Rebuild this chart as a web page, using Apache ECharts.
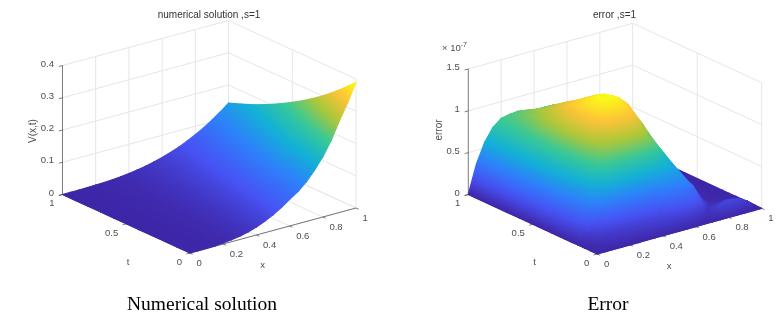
<!DOCTYPE html>
<html><head><meta charset="utf-8">
<style>html,body{margin:0;padding:0;background:#fff}#c{width:778px;height:313px;filter:blur(.45px)}</style>
<script src="https://cdn.jsdelivr.net/npm/echarts@6/dist/echarts.min.js"></script>
</head><body><div id="c"></div>
<script>
// ---------- data ----------
const xValues = [0,.05,.1,.15,.2,.25,.3,.35,.4,.45,.5,.55,.6,.65,.7,.75,.8,.85,.9,.95,1];
const solutionT = [0,.1,.2,.3,.4,.5,.6,.7,.8,.9,1];
const solutionRows = [
[0,.0001,.0004,.0013,.0031,.0061,.0105,.0167,.025,.0355,.0488,.0645,.083,.1,.123,.152,.187,.23,.2843,.3344,.39],
[0,.0001,.0004,.0012,.0028,.0055,.0095,.0151,.0226,.0322,.0441,.0585,.075,.091,.113,.138,.17,.21,.2573,.3026,.353],
[0,0,.0003,.0011,.0026,.005,.0086,.0137,.0204,.0291,.0399,.053,.068,.084,.104,.127,.156,.19,.2329,.2739,.3194],
[0,0,.0003,.001,.0023,.0045,.0078,.0124,.0185,.0263,.0361,.0481,.0624,.0794,.0991,.1219,.148,.1775,.2107,.2478,.289],
[0,0,.0003,.0009,.0021,.0041,.0071,.0112,.0167,.0238,.0327,.0435,.0564,.0718,.0896,.1102,.1338,.1605,.1905,.224,.2613],
[0,0,.0002,.0008,.0019,.0037,.0064,.0102,.0152,.0216,.0296,.0394,.0511,.065,.0812,.0999,.1212,.1454,.1726,.203,.2367],
[0,0,.0002,.0007,.0017,.0033,.0058,.0092,.0137,.0195,.0268,.0356,.0463,.0588,.0734,.0903,.1096,.1315,.1561,.1836,.2141],
[0,0,.0002,.0007,.0016,.003,.0052,.0083,.0124,.0177,.0242,.0323,.0419,.0532,.0665,.0818,.0992,.119,.1413,.1662,.1938],
[0,0,.0002,.0006,.0014,.0027,.0047,.0075,.0112,.016,.0219,.0291,.0378,.0481,.0601,.0739,.0897,.1075,.1277,.1501,.1751],
[0,0,.0002,.0005,.0013,.0025,.0043,.0068,.0102,.0145,.0198,.0264,.0343,.0436,.0544,.067,.0813,.0975,.1157,.1361,.1587],
[0,0,.0001,.0005,.0012,.0022,.0039,.0062,.0092,.0131,.0179,.0239,.031,.0394,.0492,.0606,.0735,.0881,.1046,.1231,.1435]
];
const errorT = [0,.05,.1,.15,.2,.25,.3,.35,.4,.45,.5,.6,.7,.8,.9,1];
const errorRows = [
[0,0,0,0,0,0,0,0,0,0,0,0,0,0,0,0,0,0,0,0,0],
[0,.015,.03,.04,.05,.055,.06,.065,.07,.08,.09,.1,.1,.08,.04,.08,.13,.15,.13,.08,0],
[0,.03,.06,.08,.1,.11,.12,.13,.14,.16,.2,.24,.27,.27,.2,.06,.08,.1,.09,.05,0],
[0,.07,.14,.2,.26,.28,.3,.32,.34,.36,.4,.42,.44,.42,.32,.14,.04,.04,.04,.02,0],
[0,.14,.31,.48,.62,.66,.66,.66,.66,.65,.63,.6,.57,.5,.36,.2,.05,.02,.01,.01,0],
[0,.18,.38,.6,.8,.9,.93,.95,.96,.95,.92,.85,.7,.55,.38,.22,.08,.015,.005,.005,0],
[0,.2,.42,.65,.87,1.02,1.08,1.12,1.14,1.12,1.05,.92,.74,.58,.4,.24,.11,.03,.005,.005,0],
[0,.22,.46,.69,.91,1.09,1.2,1.28,1.3,1.26,1.16,1,.8,.6,.4,.23,.1,.03,.01,.005,0],
[0,.24,.5,.72,.93,1.12,1.28,1.36,1.38,1.33,1.23,1.05,.83,.6,.4,.22,.1,.03,.01,0,0],
[0,.26,.52,.74,.94,1.13,1.29,1.37,1.37,1.32,1.22,1.05,.83,.6,.4,.22,.1,.03,.01,0,0],
[0,.27,.53,.75,.95,1.13,1.27,1.32,1.33,1.29,1.2,1.04,.83,.6,.4,.22,.1,.03,.01,0,0],
[0,.3,.55,.75,.93,1.08,1.19,1.22,1.22,1.18,1.1,.97,.78,.57,.38,.21,.09,.03,.01,0,0],
[0,.32,.56,.75,.9,1.01,1.09,1.12,1.1,1.07,1.02,.9,.72,.53,.35,.2,.09,.03,.01,0,0],
[0,.33,.56,.73,.85,.94,1,1.01,1,.97,.92,.82,.66,.49,.32,.18,.08,.02,.01,0,0],
[0,.34,.57,.72,.82,.88,.92,.9,.9,.9,.85,.75,.6,.44,.29,.16,.07,.02,.01,0,0],
[0,.34,.57,.72,.8,.82,.83,.81,.79,.79,.75,.68,.54,.4,.26,.14,.06,.02,.005,0,0]
];
const xTicks = [0,.2,.4,.6,.8,1];
const tTicks = [0,.5,1];
const zTicksSolution = [0,.1,.2,.3,.4];
const zTicksError = [0,.5,1,1.5];
const parula = ['#3e26a8','#4752f4','#2d80fb','#12b1d6','#37c897','#abc739','#fec338','#f9fb15'];

// ---------- panel geometry (pixels per unit along each data axis) ----------
const panels = [
 {title:'numerical solution ,s=1',caption:'Numerical solution',titleX:204,capX:197,zLabel:'V(x,t)',
  rows:solutionRows,tVals:solutionT,zTicks:zTicksSolution,zMax:.4,frontX:190,frontY:253,xu:166,xv:45,tu:-127.5,tv:58.5,zv:322.5},
 {title:'error ,s=1',caption:'Error',titleX:609.5,capX:603,zLabel:'error',
  rows:errorRows,tVals:errorT,zTicks:zTicksError,zMax:1.5,frontX:597.3,frontY:254,xu:164.4,xv:45.7,tu:-129,tv:59.5,zv:83.7}
];

const hex = h => [1,3,5].map(i => parseInt(h.substr(i,2),16));
const cmap = parula.map(hex);
function colorAt(c){
  c = Math.max(0,Math.min(1,c)) * (cmap.length-1);
  const i = Math.min(cmap.length-2,Math.floor(c)), f = c-i;
  const m = cmap[i].map((v,k)=>Math.round(v+(cmap[i+1][k]-v)*f));
  return 'rgb('+m.join(',')+')';
}
function triFill(P,vals,M){
  const [a,b,c]=vals;
  const e1=[P[1][0]-P[0][0],P[1][1]-P[0][1]], e2=[P[2][0]-P[0][0],P[2][1]-P[0][1]];
  const det=e1[0]*e2[1]-e1[1]*e2[0];
  const mn=Math.min(a,b,c), mx=Math.max(a,b,c);
  if(Math.abs(det)<1e-3 || mx-mn<1e-4*M) return colorAt((a+b+c)/3/M);
  const gx=((b-a)*e2[1]-(c-a)*e1[1])/det, gy=(-(b-a)*e2[0]+(c-a)*e1[0])/det;
  const g2=gx*gx+gy*gy;
  if(g2<1e-14) return colorAt((a+b+c)/3/M);
  const s1=(mn-a)/g2, s2=(mx-a)/g2;
  const stops=[];
  for(let k=0;k<=4;k++){const o=k/4;stops.push({offset:o,color:colorAt((mn+(mx-mn)*o)/M)});}
  return new echarts.graphic.LinearGradient(P[0][0]+gx*s1,P[0][1]+gy*s1,P[0][0]+gx*s2,P[0][1]+gy*s2,stops,true);
}

const grids=[],xAxes=[],yAxes=[],series=[],titles=[];
const FONT='"Liberation Sans",Arial,sans-serif';
const TEXT='#4d4d4d';

panels.forEach((p,n)=>{
  const vMax=p.xv+p.tv+p.zv*p.zMax;
  grids.push({left:p.frontX+p.tu,top:p.frontY-vMax,width:p.xu-p.tu,height:vMax});
  xAxes.push({type:'value',gridIndex:n,min:p.tu,max:p.xu,show:false});
  yAxes.push({type:'value',gridIndex:n,min:0,max:vMax,show:false});
  const proj=(x,t,z)=>[p.xu*x+p.tu*t,p.xv*x+p.tv*t+p.zv*z];
  const base={type:'custom',xAxisIndex:n,yAxisIndex:n,clip:false,silent:true,animation:false};

  // wall + floor grid, axis lines and ticks
  const light=[],dark=[];
  const zT=p.zTicks,zTop=p.zMax;
  zT.forEach(z=>{light.push([0,1,z,1,1,z]);light.push([1,1,z,1,0,z]);});
  xTicks.forEach(x=>{if(x>0)light.push([x,1,0,x,1,zTop]);light.push([x,0,0,x,1,0]);});
  tTicks.forEach(t=>{if(t<1)light.push([1,t,0,1,t,zTop]);light.push([0,t,0,1,t,0]);});
  dark.push([0,1,0,0,1,zTop]);dark.push([0,0,0,1,0,0]);dark.push([0,0,0,0,1,0]);
  xTicks.forEach(x=>dark.push([x,0,0,x,-.022,0]));
  tTicks.forEach(t=>dark.push([0,t,0,-.022,t,0]));
  zT.forEach(z=>dark.push([0,1,z,-.022,1,z]));
  const segItem=(col,w)=>(params,api)=>{
    const a=api.coord(proj(api.value(0),api.value(1),api.value(2)));
    const b=api.coord(proj(api.value(3),api.value(4),api.value(5)));
    return {type:'line',shape:{x1:a[0],y1:a[1],x2:b[0],y2:b[1]},style:{stroke:col,lineWidth:w}};
  };
  series.push(Object.assign({},base,{data:light,renderItem:segItem('#e6e6e6',1),z:1}));
  series.push(Object.assign({},base,{data:dark,renderItem:segItem('#5a5a5a',.8),z:2}));

  // surface: far cells first
  const tV=p.tVals;
  const M=Math.max.apply(null,p.rows.map(r=>Math.max.apply(null,r)));
  const cells=[];
  for(let j=tV.length-2;j>=0;j--)for(let i=xValues.length-2;i>=0;i--)cells.push([i,j]);
  series.push(Object.assign({},base,{z:3,data:cells,renderItem:(params,api)=>{
    const i=api.value(0),j=api.value(1);
    const corner=(a,b)=>api.coord(proj(xValues[a],tV[b],p.rows[b][a]));
    const A=corner(i,j),B=corner(i+1,j),C=corner(i+1,j+1),D=corner(i,j+1);
    const va=p.rows[j][i],vb=p.rows[j][i+1],vc=p.rows[j+1][i+1],vd=p.rows[j+1][i];
    const tri=(P,v)=>{const f=triFill(P,v,M);return {type:'polygon',shape:{points:P},style:{fill:f,stroke:f,lineWidth:1.2,lineJoin:'round'}};};
    return {type:'group',children:[tri([A,C,D],[va,vc,vd]),tri([A,B,C],[va,vb,vc])]};
  }}));

  // labels
  const labels=[];
  xTicks.forEach(x=>labels.push([x,0,0,String(x),6.6,10.3,'left']));
  tTicks.forEach(t=>labels.push([0,t,0,String(t),-8,9.3,'right']));
  zT.forEach(z=>labels.push([0,1,z,String(z),-8.5,-1.5,'right']));
  labels.push([.5,0,0,'x',-10.3,35,'center']);
  labels.push([0,.5,0,'t',1.75,38.2,'center']);
  series.push(Object.assign({},base,{z:5,data:labels.map((l,k)=>[l[0],l[1],l[2],k]),renderItem:(params,api)=>{
    const l=labels[api.value(3)];
    const a=api.coord(proj(l[0],l[1],l[2]));
    return {type:'text',x:a[0]+l[4],y:a[1]+l[5],style:{text:l[3],fill:TEXT,font:'9.5px '+FONT,align:l[6],verticalAlign:'middle'}};
  }}));
  titles.push({text:p.title,left:p.titleX,top:5,textAlign:'center',textStyle:{fontFamily:FONT,fontSize:10,fontWeight:'normal',color:'#333'}});
  titles.push({text:p.caption,left:p.capX,top:290,textAlign:'center',textStyle:{fontFamily:'"Liberation Serif",serif',fontSize:19.5,fontWeight:'normal',color:'#000'}});
});

const graphicEls=[
 {type:'text',x:33,y:131,rotation:Math.PI/2,style:{text:panels[0].zLabel,fill:TEXT,font:'10px '+FONT,align:'center',verticalAlign:'middle'}},
 {type:'text',x:439,y:130,rotation:Math.PI/2,style:{text:panels[1].zLabel,fill:TEXT,font:'10px '+FONT,align:'center',verticalAlign:'middle'}},
 {type:'text',x:442,y:48,style:{text:'{a|× 10}{b|-7}',verticalAlign:'middle',rich:{a:{fill:TEXT,fontSize:9.5,fontFamily:FONT},b:{fill:TEXT,fontSize:7,fontFamily:FONT,verticalAlign:'top',padding:[0,0,6,0]}}}}
];

const chart=echarts.init(document.getElementById('c'),null,{renderer:'canvas',width:778,height:313});
chart.setOption({animation:false,backgroundColor:'#fff',title:titles,grid:grids,xAxis:xAxes,yAxis:yAxes,series:series,graphic:graphicEls});
</script></body></html>
